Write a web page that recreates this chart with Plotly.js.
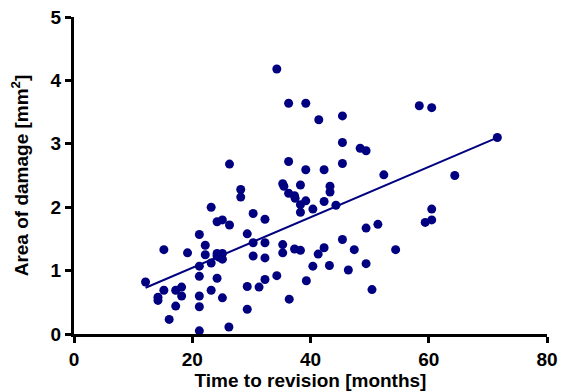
<!DOCTYPE html>
<html>
<head>
<meta charset="utf-8">
<script src="https://cdn.plot.ly/plotly-3.0.1.min.js"></script>
<style>
html,body{margin:0;padding:0;background:#fff;}
#chart{width:568px;height:392px;}
</style>
</head>
<body>
<div id="chart"></div>
<script>
// Time to revision [months]
const months = [12.1,14.2,14.2,15.2,15.2,16.1,17.2,17.2,18.2,18.2,19.2,21.2,21.2,21.2,21.2,21.2,21.2,22.2,22.2,23.2,23.2,23.2,24.2,25.1,26.3,24.2,25.1,24.2,25.1,24.6,24.2,25.1,26.2,26.3,28.2,28.2,29.3,29.3,29.3,30.3,30.3,30.3,31.3,32.3,32.3,32.3,32.3,34.3,34.3,35.3,35.5,35.3,35.3,36.3,36.3,36.3,36.4,37.3,37.4,37.3,38.3,38.3,38.3,38.3,39.2,39.2,39.2,39.3,40.4,40.4,41.4,41.3,42.3,42.3,42.3,43.3,43.3,43.2,44.3,45.4,45.4,45.4,45.4,46.4,47.4,48.4,49.4,49.4,49.4,50.4,51.4,52.4,54.4,58.4,59.4,60.5,60.5,60.5,64.4,71.6];
// Area of damage [mm²]
const damage = [0.82,0.58,0.53,1.33,0.69,0.23,0.69,0.44,0.74,0.60,1.28,1.57,1.07,0.91,0.60,0.43,0.05,1.40,1.25,2.00,1.12,0.69,1.77,1.80,1.72,1.27,1.27,1.23,1.18,1.21,0.88,0.57,0.11,2.68,2.28,2.16,1.58,0.75,0.39,1.90,1.44,1.23,0.74,1.81,1.44,1.20,0.86,4.18,0.92,2.37,2.33,1.41,1.28,3.64,2.72,2.22,0.55,2.18,2.14,1.34,2.35,2.04,1.92,1.32,3.64,2.59,2.10,0.84,1.97,1.07,3.38,1.26,2.59,2.09,1.36,2.33,2.24,1.08,2.03,3.44,3.02,2.69,1.49,1.01,1.33,2.93,2.89,1.67,1.11,0.70,1.73,2.51,1.33,3.60,1.76,3.57,1.97,1.80,2.50,3.10];
// Linear fit
const fitSlope = 0.0398;
const fitIntercept = 0.248;

const xTicks = [0,20,40,60,80];
const yTicks = [0,1,2,3,4,5];

const xmin = Math.min(...months), xmax = Math.max(...months);
const fitX = [xmin, xmax];
const fitY = fitX.map(x => fitIntercept + fitSlope * x);

const navy = '#000080';
const font = {family: 'Liberation Sans, Arial, sans-serif', size: 19, color: '#000', weight: 'bold'};

const traces = [
  {x: fitX, y: fitY, mode: 'lines', line: {color: navy, width: 2}, hoverinfo: 'skip', cliponaxis: false},
  {x: months, y: damage, mode: 'markers', marker: {color: navy, size: 9}, cliponaxis: false}
];

const layout = {
  width: 568, height: 392,
  margin: {l: 74, r: 21, t: 17, b: 58},
  paper_bgcolor: '#fff', plot_bgcolor: '#fff',
  showlegend: false,
  font: font,
  xaxis: {
    range: [0, 80], tickvals: xTicks, ticktext: xTicks.map(String),
    showgrid: false, zeroline: false, showline: true, linecolor: '#000', linewidth: 3,
    ticks: 'outside', ticklen: 6, tickwidth: 3, tickcolor: '#000',
    tickfont: font,
    title: {text: 'Time to revision [months]', font: font, standoff: 2}
  },
  yaxis: {
    range: [0, 5], tickvals: yTicks, ticktext: yTicks.map(String),
    showgrid: false, zeroline: false, showline: true, linecolor: '#000', linewidth: 3,
    ticks: 'outside', ticklen: 6, tickwidth: 3, tickcolor: '#000',
    tickfont: font,
    title: {text: 'Area of damage [mm<sup>2</sup>]', font: font, standoff: 17}
  }
};

Plotly.newPlot('chart', traces, layout, {displayModeBar: false, staticPlot: true});
</script>
</body>
</html>
